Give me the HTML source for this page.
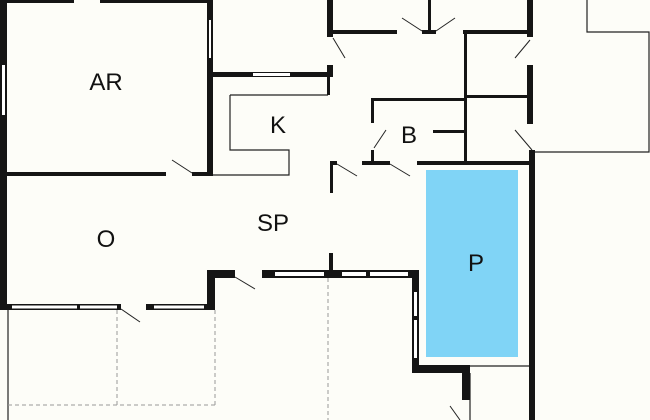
<!DOCTYPE html>
<html><head><style>html,body{margin:0;padding:0;background:#fdfdf8}svg{display:block}</style></head>
<body>
<svg width="650" height="420" viewBox="0 0 650 420" xmlns="http://www.w3.org/2000/svg">
<rect width="650" height="420" fill="#fdfdf8"/>
<rect x="426" y="170" width="92" height="187" fill="#80d4f6"/>
<g stroke="#222" stroke-width="1.2" fill="none">
<polyline points="587,0 587,32 649,32 649,152 533,152"/>
<polyline points="230,95 328,95"/>
<polyline points="230,95 230,150 289,150 289,175 212,175"/>
<line x1="8" y1="308" x2="8" y2="420"/>
<line x1="419" y1="366" x2="529" y2="366"/>
<line x1="470" y1="373" x2="470" y2="420"/>
</g>
<g stroke="#999" stroke-width="1" stroke-dasharray="4,3" fill="none">
<line x1="117" y1="310" x2="117" y2="405"/>
<line x1="8" y1="405" x2="215" y2="405"/>
<line x1="215" y1="310" x2="215" y2="405"/>
<line x1="328" y1="278" x2="328" y2="420"/>
</g>
<g fill="#151515">
<rect x="0" y="0" width="7" height="308"/>
<rect x="0" y="0" width="74" height="3"/>
<rect x="100" y="0" width="113" height="3"/>
<rect x="207" y="0" width="6" height="176"/>
<rect x="7" y="172" width="159" height="4"/>
<rect x="192" y="172" width="21" height="4"/>
<rect x="208" y="72" width="125" height="5"/>
<rect x="327" y="0" width="6" height="37"/>
<rect x="327" y="65" width="6" height="12"/>
<rect x="327" y="65" width="3" height="30"/>
<rect x="327" y="30" width="70" height="4"/>
<rect x="422" y="30" width="14" height="4"/>
<rect x="428" y="0" width="3" height="32"/>
<rect x="463" y="30" width="70" height="4"/>
<rect x="527" y="0" width="6" height="37"/>
<rect x="527" y="65" width="6" height="59"/>
<rect x="529" y="150" width="6" height="270"/>
<rect x="464" y="32" width="3" height="133"/>
<rect x="467" y="95" width="60" height="3"/>
<rect x="371" y="98" width="93" height="3"/>
<rect x="371" y="98" width="3" height="25"/>
<rect x="371" y="150" width="3" height="13"/>
<rect x="433" y="130" width="31" height="3"/>
<rect x="330" y="161" width="7" height="4"/>
<rect x="330" y="161" width="3" height="32"/>
<rect x="362" y="161" width="28" height="4"/>
<rect x="417" y="161" width="118" height="4"/>
<rect x="0" y="304" width="121" height="6"/>
<rect x="146" y="304" width="69" height="6"/>
<rect x="207" y="270" width="8" height="40"/>
<rect x="207" y="270" width="28" height="8"/>
<rect x="262" y="270" width="157" height="8"/>
<rect x="329" y="253" width="4" height="20"/>
<rect x="412" y="270" width="7" height="103"/>
<rect x="412" y="365" width="58" height="8"/>
<rect x="462" y="365" width="8" height="35"/>
</g>
<g fill="#fff">
<rect x="2" y="65" width="3" height="50"/>
<rect x="209" y="20" width="2" height="38"/>
<rect x="253" y="73" width="37" height="3"/>
<rect x="12" y="305.5" width="65" height="3"/>
<rect x="80" y="305.5" width="37" height="3"/>
<rect x="154" y="305.5" width="50" height="3"/>
<rect x="275" y="272" width="49" height="4"/>
<rect x="342" y="272" width="24" height="4"/>
<rect x="370" y="272" width="38" height="4"/>
<rect x="414" y="292" width="3" height="24"/>
<rect x="414" y="320" width="3" height="38"/>
</g>
<g stroke="#222" stroke-width="1" fill="none">
<line x1="172" y1="160" x2="192" y2="173"/>
<line x1="402" y1="18" x2="422" y2="31"/>
<line x1="455" y1="18" x2="436" y2="31"/>
<line x1="333" y1="38" x2="345" y2="58"/>
<line x1="530" y1="40" x2="515" y2="58"/>
<line x1="515" y1="130" x2="532" y2="150"/>
<line x1="386" y1="130" x2="374" y2="148"/>
<line x1="337" y1="164" x2="357" y2="176"/>
<line x1="390" y1="164" x2="410" y2="176"/>
<line x1="121" y1="309" x2="140" y2="322"/>
<line x1="235" y1="277" x2="255" y2="289"/>
<line x1="450" y1="406" x2="460" y2="420"/>
</g>
<g font-family="Liberation Sans, sans-serif" font-size="24" fill="#111" text-anchor="middle">
<text x="106" y="90">AR</text>
<text x="278" y="133">K</text>
<text x="409" y="143">B</text>
<text x="273" y="231">SP</text>
<text x="106" y="247">O</text>
<text x="476" y="271">P</text>
</g>
</svg>
</body></html>
